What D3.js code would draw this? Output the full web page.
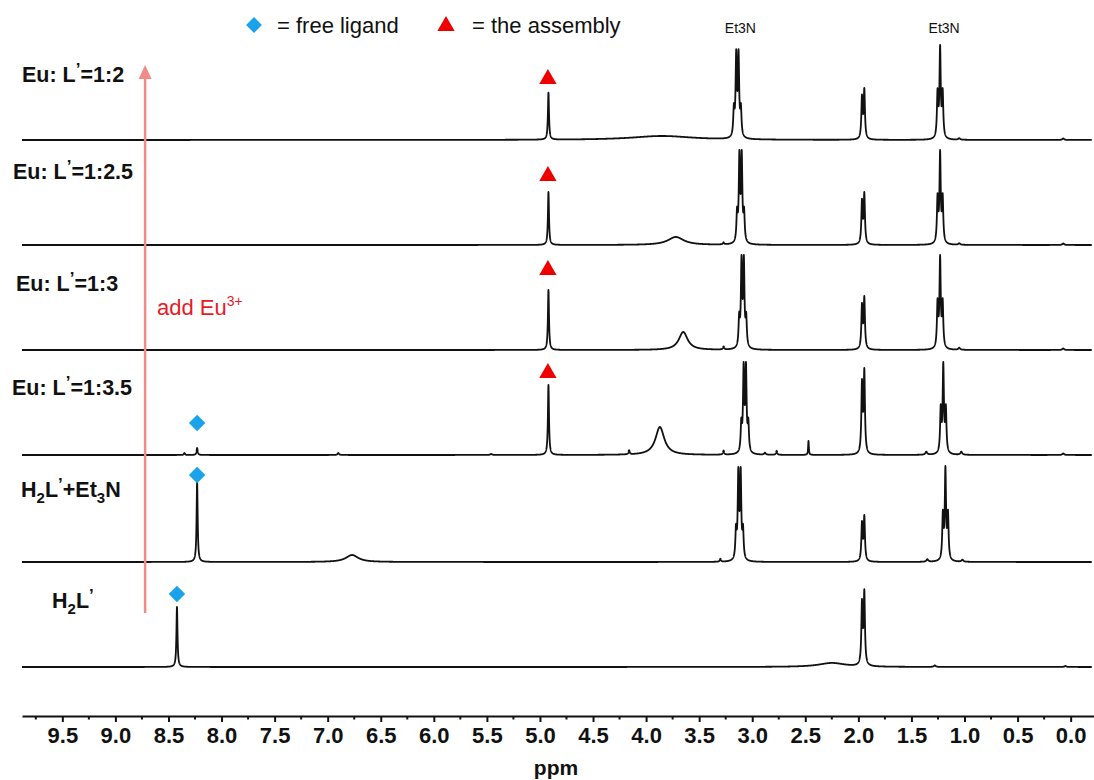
<!DOCTYPE html>
<html>
<head>
<meta charset="utf-8">
<script src="https://cdn.jsdelivr.net/npm/d3@7"></script>
<style>
  body { margin: 0; background: #fff; }
  text { font-family: Arial, "Liberation Sans", sans-serif; }
</style>
</head>
<body>
<div id="chart"></div>
<script>
"use strict";

// spectra, bottom to top
const spectrumOffsets = [0, 105, 212, 317, 422, 527];

// label pieces: [text, kind]  kind: n = normal, sub, sup
const spectrumLabels = [
    [["H", "n"], ["2", "sub"], ["L", "n"], ["’", "sup"]],
    [["H", "n"], ["2", "sub"], ["L", "n"], ["’", "sup"], ["+Et", "n"], ["3", "sub"], ["N", "n"]],
    [["Eu: L", "n"], ["’", "sup"], ["=1:3.5", "n"]],
    [["Eu: L", "n"], ["’", "sup"], ["=1:3", "n"]],
    [["Eu: L", "n"], ["’", "sup"], ["=1:2.5", "n"]],
    [["Eu: L", "n"], ["’", "sup"], ["=1:2", "n"]]
];
const labelX = [52, 21, 12, 16, 13, 22];
const labelRise = [59, 65, 60, 59, 66, 58];

// singlets / broad humps: [ppm, height, half width (ppm)]
const peaks = [
    [[8.42, 60, 0.006], [2.25, 4, 0.15], [1.28, 1.5, 0.01], [0.05, 1, 0.01]],
    [[8.23, 80, 0.006], [6.77, 7, 0.07], [3.30, 3, 0.006], [1.35, 2.5, 0.01], [1.02, 2, 0.01]],
    [[8.35, 2, 0.006], [8.23, 7, 0.006], [6.90, 2, 0.008], [5.46, 1, 0.01], [4.92, 70, 0.006],
     [4.16, 4, 0.006], [3.87, 28, 0.05], [3.27, 4, 0.006], [2.88, 2, 0.008], [2.77, 4, 0.006],
     [2.47, 14, 0.004], [1.36, 3, 0.01], [1.03, 3, 0.01], [0.07, 1.5, 0.01]],
    [[4.92, 60, 0.006], [3.65, 18, 0.05], [3.27, 3, 0.006], [1.05, 2, 0.01], [0.07, 1.5, 0.01]],
    [[4.92, 53, 0.006], [3.72, 8, 0.09], [3.27, 2, 0.006], [1.05, 1.5, 0.01], [0.07, 1.5, 0.01]],
    [[4.92, 47, 0.006], [3.85, 4, 0.35], [1.05, 1.5, 0.01], [0.07, 1.5, 0.01]]
];

// multiplets: [centre ppm, top height, line ratios, line spacing (ppm)]
const multiplets = [
    [[1.955, 77, [1, 0.85], 0.022]],
    [[3.12, 95, [1, 3, 3, 1], 0.022], [1.955, 47, [1, 0.85], 0.022], [1.18, 96, [1, 2, 1], 0.024]],
    [[3.07, 93, [1, 3, 3, 1], 0.022], [1.955, 87, [1, 0.85], 0.022], [1.20, 93, [1, 2, 1], 0.024]],
    [[3.09, 95, [1, 3, 3, 1], 0.022], [1.955, 54, [1, 0.85], 0.022], [1.23, 95, [1, 2, 1], 0.024]],
    [[3.11, 95, [1, 3, 3, 1], 0.022], [1.955, 53, [1, 0.85], 0.022], [1.23, 95, [1, 2, 1], 0.024]],
    [[3.14, 90, [1, 3, 3, 1], 0.022], [1.955, 52, [1, 0.85], 0.022], [1.23, 95, [1, 2, 1], 0.024]]
];

// markers: [spectrum, ppm, height above baseline, type]
const markers = [
    [5, 4.925, 61, "tri"], [4, 4.925, 69, "tri"], [3, 4.925, 80, "tri"], [2, 4.925, 82, "tri"],
    [2, 8.23, 32, "dia"], [1, 8.23, 87, "dia"], [0, 8.42, 73, "dia"]
];

const et3nLabels = [3.14, 1.22];
const tickValues = d3.range(0, 9.51, 0.5);
const minorTicks = d3.range(0.25, 9.8, 0.5);
const arrowPpm = 8.72;

const W = 1094, H = 780;
const svg = d3.select('#chart').append('svg').attr('width', W).attr('height', H);

const x = d3.scaleLinear().domain([9.88, -0.22]).range([22, 1094]);
const y = d3.scaleLinear().domain([0, 600]).range([667, 67]);

// lorentzian line shape from the peak table
const lor = (p, p0, h, w) => h / (1 + ((p - p0) / w) * ((p - p0) / w));
const lineW = 0.007;

const multipletValue = function(m, p) {
    const [c, , ratios, J] = m;
    let s = 0;
    const n = ratios.length;
    ratios.forEach((r, i) => {
        const p0 = c + (i - (n - 1) / 2) * J;
        s += lor(p, p0, r, lineW);
    });
    return s;
};
const multipletScale = multiplets.map(list => list.map(m => {
    let mx = 0;
    for (let p = m[0] - 0.05; p <= m[0] + 0.05; p += 0.0002) mx = Math.max(mx, multipletValue(m, p));
    return m[1] / mx;
}));

const ppmGrid = d3.range(9.88, -0.2, -0.001);

const line = d3.line().x(d => x(d[0])).y(d => y(d[1]));

spectrumOffsets.forEach((off, k) => {
    const pts = ppmGrid.map(p => {
        let v = 0;
        peaks[k].forEach(pk => { v += lor(p, pk[0], pk[1], pk[2]); });
        multiplets[k].forEach((m, j) => { v += multipletValue(m, p) * multipletScale[k][j]; });
        return [p, off + v];
    });
    svg.append('path').datum(pts).attr('d', line)
        .attr('fill', 'none').attr('stroke', '#111').attr('stroke-width', 1.8)
        .attr('stroke-linejoin', 'round');
});

// arrow
const ax = x(arrowPpm);
svg.append('line').attr('x1', ax).attr('x2', ax)
    .attr('y1', y(54)).attr('y2', y(590))
    .attr('stroke', '#f28a8a').attr('stroke-width', 2.5);
svg.append('path')
    .attr('d', `M${ax},${y(602)}L${ax - 6.5},${y(588)}L${ax + 6.5},${y(588)}Z`)
    .attr('fill', '#f28a8a');

const addEu = svg.append('text').attr('x', 157).attr('y', 315)
    .attr('fill', '#e8191f').attr('font-size', 22);
addEu.append('tspan').text('add Eu');
addEu.append('tspan').attr('font-size', 14).attr('dy', -9).text('3+');

// spectrum labels
spectrumLabels.forEach((parts, k) => {
    const t = svg.append('text').attr('x', labelX[k]).attr('y', y(spectrumOffsets[k] + labelRise[k]))
        .attr('font-size', 21.5).attr('font-weight', 'bold').attr('fill', '#111');
    let prev = 'n';
    parts.forEach(([txt, kind]) => {
        const ts = t.append('tspan').text(txt);
        let dy = 0;
        if (prev === 'sub') dy -= 6;
        if (prev === 'sup') dy += 7;
        if (kind === 'sub') { dy += 6; ts.attr('font-size', 15); }
        if (kind === 'sup') { dy -= 7; ts.attr('font-size', 17); }
        if (dy) ts.attr('dy', dy);
        prev = kind;
    });
});

// markers
markers.forEach(([k, p, h, type]) => {
    const cx = x(p), cy = y(spectrumOffsets[k] + h);
    if (type === 'tri') {
        svg.append('path').attr('transform', `translate(${cx},${cy})`)
            .attr('d', d3.symbol(d3.symbolTriangle, 130)()).attr('fill', '#ee0000');
    } else {
        svg.append('path').attr('transform', `translate(${cx},${cy}) rotate(45)`)
            .attr('d', d3.symbol(d3.symbolSquare, 135)()).attr('fill', '#1aa3ea');
    }
});

// legend
svg.append('path').attr('transform', 'translate(254,25) rotate(45)')
    .attr('d', d3.symbol(d3.symbolSquare, 125)()).attr('fill', '#1aa3ea');
svg.append('text').attr('x', 277).attr('y', 33).attr('font-size', 22).attr('fill', '#111').text('= free ligand');
svg.append('path').attr('transform', 'translate(446,26)')
    .attr('d', d3.symbol(d3.symbolTriangle, 130)()).attr('fill', '#ee0000');
svg.append('text').attr('x', 472).attr('y', 33).attr('font-size', 22).attr('fill', '#111').text('= the assembly');

et3nLabels.forEach(p => {
    svg.append('text').attr('x', x(p) + 3).attr('y', 33).attr('text-anchor', 'middle')
        .attr('font-size', 14).attr('fill', '#111').text('Et3N');
});

// axis
const axisG = svg.append('g').attr('transform', 'translate(0,716)');
const axis = d3.axisBottom(x).tickValues(tickValues).tickFormat(d3.format('.1f'))
    .tickSizeInner(6).tickSizeOuter(0).tickPadding(5);
axisG.call(axis);
axisG.select('.domain').attr('stroke', '#111').attr('stroke-width', 2);
axisG.selectAll('.tick line').attr('stroke', '#111').attr('stroke-width', 2);
axisG.selectAll('.tick text').attr('font-size', 22).attr('font-weight', 'bold')
    .attr('fill', '#111').attr('font-family', 'Arial, "Liberation Sans", sans-serif');
axisG.selectAll('.minor').data(minorTicks).enter().append('line')
    .attr('class', 'minor').attr('x1', d => x(d)).attr('x2', d => x(d))
    .attr('y1', 0).attr('y2', 3.5).attr('stroke', '#111').attr('stroke-width', 2);

svg.append('text').attr('x', 556).attr('y', 775).attr('text-anchor', 'middle')
    .attr('font-size', 21).attr('font-weight', 'bold').attr('fill', '#111').text('ppm');
</script>
</body>
</html>
